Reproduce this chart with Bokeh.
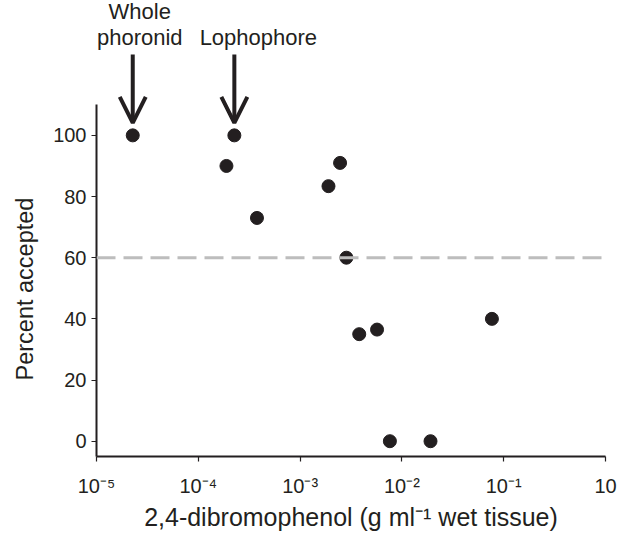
from bokeh.plotting import figure
from bokeh.models import (Span, Arrow, OpenHead, FixedTicker, ColumnDataSource,
                          LabelSet, Title)
from bokeh.core.properties import value
from bokeh.embed import file_html
from bokeh.resources import INLINE

# ---- data ----
concentration = [2.27e-5, 2.26e-4, 1.89e-4, 3.77e-4, 1.90e-3, 2.47e-3,
                 2.85e-3, 3.81e-3, 5.70e-3, 7.62e-3, 1.91e-2, 7.66e-2]
percent_accepted = [100, 100, 90, 73, 83.4, 91, 60, 35, 36.5, 0, 0, 40]

x_ticks = [1e-5, 1e-4, 1e-3, 1e-2, 1e-1, 1.0]
x_tick_labels = ["10\u207b\u2075", "10\u207b\u2074", "10\u207b\u00b3",
                 "10\u207b\u00b2", "10\u207b\u00b9", "10"]
y_ticks = [0, 20, 40, 60, 80, 100]
threshold = 60

ann_text = ["Whole", "phoronid", "Lophophore"]
ann_point = [0, 0, 1]          # index of the point each label refers to
ann_y = [137.95, 129.7, 129.7]
ann_dx = [7, 7, 24]
arrow_points = [0, 1]
arrow_top = 126.46
arrow_tip = 104.1

INK = "#231f20"
FONT = "Liberation Sans"

p = figure(width=619, height=533, output_backend="svg", toolbar_location=None,
           x_axis_type="log", x_range=(1e-5, 1.0), y_range=(-5, 144.1),
           min_border_left=93, min_border_right=14, min_border_top=0,
           min_border_bottom=73)
p.outline_line_color = None
p.grid.visible = False
p.background_fill_color = "white"

# threshold line
p.add_layout(Span(location=threshold, dimension="width", line_color="#bdbdbd",
                  line_width=3, line_dash="19 8"))

src = ColumnDataSource(dict(x=concentration, y=percent_accepted))
p.scatter("x", "y", source=src, size=13, fill_color=INK, line_color=INK)

# arrows
for i in arrow_points:
    p.add_layout(Arrow(x_start=concentration[i], y_start=arrow_top,
                       x_end=concentration[i], y_end=arrow_tip,
                       line_width=4, line_color=INK,
                       end=OpenHead(size=26, line_width=4, line_color=INK)))

asrc = ColumnDataSource(dict(x=[concentration[i] for i in ann_point], y=ann_y,
                             t=ann_text, dx=ann_dx))
p.add_layout(LabelSet(x="x", y="y", text="t", x_offset="dx", source=asrc,
                      text_align="center", text_baseline="alphabetic",
                      text_font=value(FONT), text_font_size=value("22px"),
                      text_color=INK))

# axes
xa = p.xaxis[0]
xa.ticker = FixedTicker(ticks=x_ticks)
xa.major_label_overrides = {t: l for t, l in zip(x_ticks, x_tick_labels)}
xa.axis_label = "2,4-dibromophenol (g ml\u207b\u00b9 wet tissue)"

ya = p.yaxis[0]
ya.ticker = FixedTicker(ticks=y_ticks)
ya.bounds = (-5, 110)

for ax in (xa, ya):
    ax.axis_line_color = INK
    ax.axis_line_width = 2
    ax.major_tick_line_color = INK
    ax.major_tick_line_width = 1.2
    ax.major_tick_out = 5
    ax.major_tick_in = 0
    ax.minor_tick_line_color = None
    ax.major_label_text_font = FONT
    ax.major_label_text_font_size = "20px"
    ax.major_label_text_color = INK
    ax.axis_label_text_font = FONT
    ax.axis_label_text_font_style = "normal"
    ax.axis_label_text_color = INK
xa.major_label_standoff = 13
ya.major_label_standoff = 5
xa.axis_label_text_font_size = "25px"
xa.axis_label_standoff = 3

# y-axis title, placed along the drawn part of the axis
p.add_layout(Title(text="Percent accepted", align="left", offset=76,
                   standoff=22, vertical_align="top", text_font=FONT,
                   text_font_size="23.5px", text_font_style="normal",
                   text_color=INK), "left")

open("out.html", "w").write(file_html(p, INLINE))
